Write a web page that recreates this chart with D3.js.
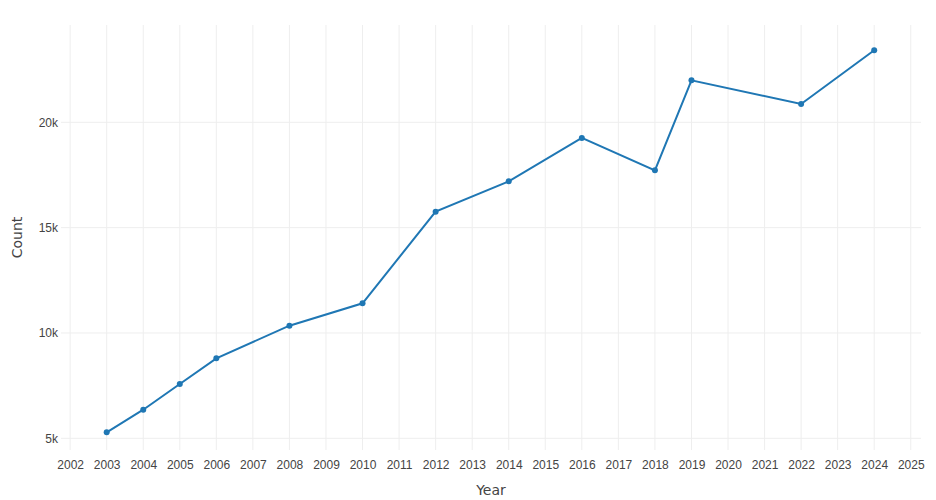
<!DOCTYPE html>
<html>
<head>
<meta charset="utf-8">
<script src="https://cdn.jsdelivr.net/npm/d3@7"></script>
<style>
  html, body { margin: 0; padding: 0; background: #fff; }
  svg { display: block; font-family: "DejaVu Sans", Verdana, sans-serif; }
</style>
</head>
<body>
<svg id="chart" width="936" height="500"></svg>
<script>
const years = [2003, 2004, 2005, 2006, 2008, 2010, 2012, 2014, 2016, 2018, 2019, 2022, 2024];
const counts = [5285, 6357, 7577, 8797, 10346, 11409, 15759, 17197, 19257, 17720, 21993, 20869, 23417];
const xTicks = d3.range(2002, 2026);
const yTicks = [5000, 10000, 15000, 20000];

const W = 936, H = 500;
const margin = { left: 61, right: 15, top: 25, bottom: 50 };
const svg = d3.select("#chart");

const x = d3.scaleLinear().domain([2001.75, 2025.28]).range([margin.left, W - margin.right]);
const y = d3.scaleLinear().domain([4445, 24618]).range([H - margin.bottom, margin.top]);

// grid
svg.append("g").selectAll("line").data(xTicks).join("line")
  .attr("x1", d => x(d)).attr("x2", d => x(d))
  .attr("y1", margin.top).attr("y2", H - margin.bottom)
  .attr("stroke", "#eeeeee").attr("stroke-width", 1);
svg.append("g").selectAll("line").data(yTicks).join("line")
  .attr("x1", margin.left).attr("x2", W - margin.right)
  .attr("y1", d => y(d)).attr("y2", d => y(d))
  .attr("stroke", "#eeeeee").attr("stroke-width", 1);

// axes
const xAxis = svg.append("g")
  .attr("transform", `translate(0,${H - margin.bottom})`)
  .call(d3.axisBottom(x).tickValues(xTicks).tickFormat(d3.format("d")).tickSize(0).tickPadding(10));
xAxis.select(".domain").remove();
xAxis.selectAll("text").attr("fill", "#444").style("font-size", "12px");

const yAxis = svg.append("g")
  .attr("transform", `translate(${margin.left},0)`)
  .call(d3.axisLeft(y).tickValues(yTicks).tickFormat(d => (d / 1000) + "k").tickSize(0).tickPadding(3));
yAxis.select(".domain").remove();
yAxis.selectAll("text").attr("fill", "#444").style("font-size", "12px");

// titles
svg.append("text").attr("x", (margin.left + W - margin.right) / 2).attr("y", 495)
  .attr("text-anchor", "middle").attr("fill", "#444").style("font-size", "14px").text("Year");
svg.append("text").attr("transform", `translate(22,${(margin.top + H - margin.bottom) / 2}) rotate(-90)`)
  .attr("text-anchor", "middle").attr("fill", "#444").style("font-size", "14px").text("Count");

// line
const data = years.map((yr, i) => ({ yr, c: counts[i] }));
svg.append("path").datum(data)
  .attr("fill", "none").attr("stroke", "#1f77b4").attr("stroke-width", 2)
  .attr("d", d3.line().x(d => x(d.yr)).y(d => y(d.c)));
svg.append("g").selectAll("circle").data(data).join("circle")
  .attr("cx", d => x(d.yr)).attr("cy", d => y(d.c)).attr("r", 3)
  .attr("fill", "#1f77b4");
</script>
</body>
</html>
